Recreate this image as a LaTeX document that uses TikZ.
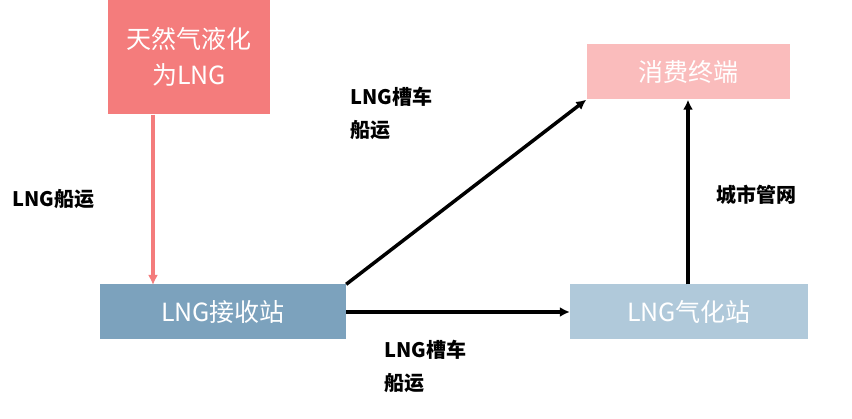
\documentclass[tikz,border=0pt]{standalone}
\usepackage{fontspec}
\setmainfont{Liberation Serif}
\newfontfamily\cjk{Noto Sans CJK SC}
\usetikzlibrary{arrows.meta}
\begin{document}
\begin{tikzpicture}[x=1pt,y=-1pt,
 box/.style={draw=none,minimum height=55pt,text=white,font=\cjk\fontsize{25}{36}\selectfont,align=center},
 lab/.style={font=\cjk\bfseries\fontsize{20}{33}\selectfont,align=left,anchor=north west,inner sep=0pt},
 arr/.style={line width=3.5pt,-{Latex[length=10pt,width=10pt]}}]
\useasboundingbox (0,0) rectangle (852,419);
\node[box,fill={rgb,255:red,244;green,124;blue,124},minimum width=162pt,minimum height=115pt] (a) at (189,57) {天然气液化\\为LNG};
\node[box,fill={rgb,255:red,250;green,188;blue,188},minimum width=203pt] (b) at (688,72) {消费终端};
\node[box,fill={rgb,255:red,124;green,162;blue,189},minimum width=246pt] (c) at (223,312) {LNG接收站};
\node[box,fill={rgb,255:red,176;green,201;blue,218},minimum width=238pt] (d) at (689,312) {LNG气化站};
\draw[arr,draw={rgb,255:red,244;green,124;blue,124}] (a.south -| 153,0) -- (153,285);
\draw[arr] (c.north east) -- (b.south west);
\draw[arr] (c.east) -- (d.west);
\draw[arr] (d.north -| 688,0) -- (b.south -| 688,0);
\node[lab] (l1) at (12,189) {LNG船运};
\node[lab] (l2) at (350,87) {LNG槽车\\船运};
\node[lab] (l3) at (384,340) {LNG槽车\\船运};
\node[lab] (l4) at (716,185) {城市管网};
\end{tikzpicture}
\end{document}
